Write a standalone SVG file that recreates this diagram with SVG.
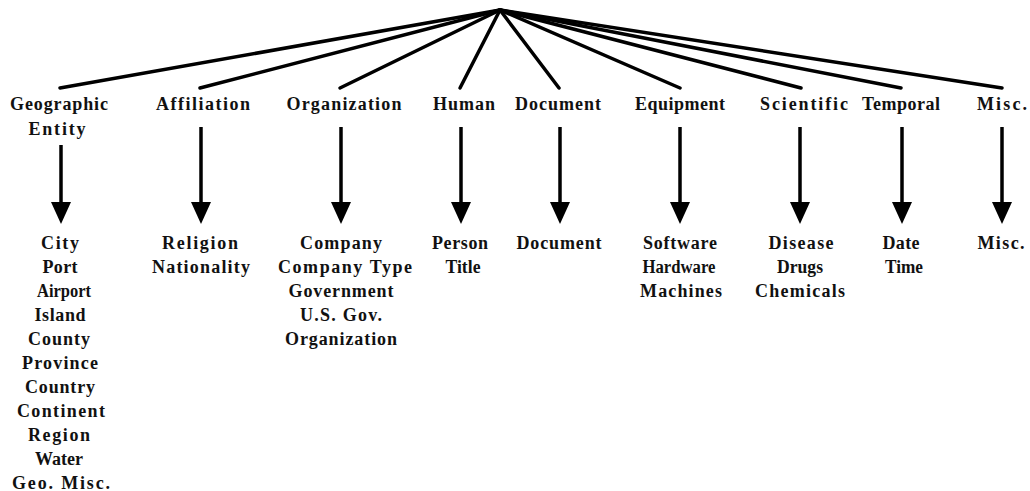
<svg xmlns="http://www.w3.org/2000/svg" width="1030" height="491" viewBox="0 0 1030 491">
<style>
text{font-family:"Liberation Serif","Times New Roman",serif;font-weight:bold;font-size:18px;fill:#111;text-anchor:middle}
.e{stroke:#000;stroke-width:3.5;fill:none;stroke-linecap:round}
.a{stroke:#000;stroke-width:3.5;fill:none}
</style>
<defs>
<marker id="ah" markerUnits="userSpaceOnUse" markerWidth="24" markerHeight="22" refX="0" refY="10" viewBox="0 0 24 20" orient="auto">
<path d="M0,0 L22,10 L0,20 z" fill="#000"/>
</marker>
</defs>
<rect width="1030" height="491" fill="#fff"/>
<g id="connectors">
<line class="e" x1="500" y1="10" x2="60" y2="88"/>
<line class="e" x1="500" y1="10" x2="200" y2="88"/>
<line class="e" x1="500" y1="10" x2="340" y2="88"/>
<line class="e" x1="500" y1="10" x2="460" y2="88"/>
<line class="e" x1="500" y1="10" x2="559" y2="88"/>
<line class="e" x1="500" y1="10" x2="680" y2="88"/>
<line class="e" x1="500" y1="10" x2="801" y2="88"/>
<line class="e" x1="500" y1="10" x2="901" y2="88"/>
<line class="e" x1="500" y1="10" x2="1002" y2="88"/>
<line class="a" x1="61" y1="145" x2="61" y2="202" marker-end="url(#ah)"/>
<line class="a" x1="201" y1="127" x2="201" y2="202" marker-end="url(#ah)"/>
<line class="a" x1="341" y1="127" x2="341" y2="202" marker-end="url(#ah)"/>
<line class="a" x1="461" y1="127" x2="461" y2="202" marker-end="url(#ah)"/>
<line class="a" x1="560" y1="127" x2="560" y2="202" marker-end="url(#ah)"/>
<line class="a" x1="680" y1="127" x2="680" y2="202" marker-end="url(#ah)"/>
<line class="a" x1="800" y1="127" x2="800" y2="202" marker-end="url(#ah)"/>
<line class="a" x1="902" y1="127" x2="902" y2="202" marker-end="url(#ah)"/>
<line class="a" x1="1002" y1="127" x2="1002" y2="202" marker-end="url(#ah)"/>
</g>
<g id="geographic">
<text x="59" y="110" textLength="98">Geographic</text>
<text x="57" y="135" textLength="57">Entity</text>
</g>
<g id="affiliation"><text x="203" y="110" textLength="94">Affiliation</text></g>
<g id="organization"><text x="344" y="110" textLength="115">Organization</text></g>
<g id="human"><text x="464" y="110" textLength="62">Human</text></g>
<g id="document"><text x="558" y="110" textLength="86">Document</text></g>
<g id="equipment"><text x="680" y="110" textLength="90">Equipment</text></g>
<g id="scientific"><text x="804" y="110" textLength="88">Scientific</text></g>
<g id="temporal"><text x="901" y="110" textLength="78">Temporal</text></g>
<g id="misc"><text x="1002" y="110" textLength="50">Misc.</text></g>
<g id="geo-list">
<text x="60" y="249" textLength="38">City</text>
<text x="60" y="273" textLength="35">Port</text>
<text x="64" y="297" textLength="54" lengthAdjust="spacingAndGlyphs">Airport</text>
<text x="60" y="321" textLength="51">Island</text>
<text x="59" y="345" textLength="62">County</text>
<text x="60" y="369" textLength="76">Province</text>
<text x="60" y="393" textLength="70">Country</text>
<text x="61" y="417" textLength="88">Continent</text>
<text x="59" y="441" textLength="62">Region</text>
<text x="59" y="465" textLength="48" lengthAdjust="spacingAndGlyphs">Water</text>
<text x="61" y="489" textLength="98">Geo. Misc.</text>
</g>
<g id="affiliation-list">
<text x="200" y="249" textLength="76">Religion</text>
<text x="201" y="273" textLength="98">Nationality</text>
</g>
<g id="organization-list">
<text x="341" y="249" textLength="82">Company</text>
<text x="345" y="273" textLength="134">Company Type</text>
<text x="341" y="297" textLength="105">Government</text>
<text x="341" y="321" textLength="82">U.S. Gov.</text>
<text x="341" y="345" textLength="112">Organization</text>
</g>
<g id="human-list">
<text x="460" y="249" textLength="56">Person</text>
<text x="463" y="273" textLength="35" lengthAdjust="spacingAndGlyphs">Title</text>
</g>
<g id="document-list"><text x="559" y="249" textLength="85">Document</text></g>
<g id="equipment-list">
<text x="680" y="249" textLength="74">Software</text>
<text x="679" y="273" textLength="73" lengthAdjust="spacingAndGlyphs">Hardware</text>
<text x="681" y="297" textLength="82">Machines</text>
</g>
<g id="scientific-list">
<text x="801" y="249" textLength="65">Disease</text>
<text x="800" y="273" textLength="46" lengthAdjust="spacingAndGlyphs">Drugs</text>
<text x="800" y="297" textLength="90">Chemicals</text>
</g>
<g id="temporal-list">
<text x="901" y="249" textLength="37">Date</text>
<text x="904" y="273" textLength="38" lengthAdjust="spacingAndGlyphs">Time</text>
</g>
<g id="misc-list"><text x="1001" y="249" textLength="47">Misc.</text></g>
</svg>
